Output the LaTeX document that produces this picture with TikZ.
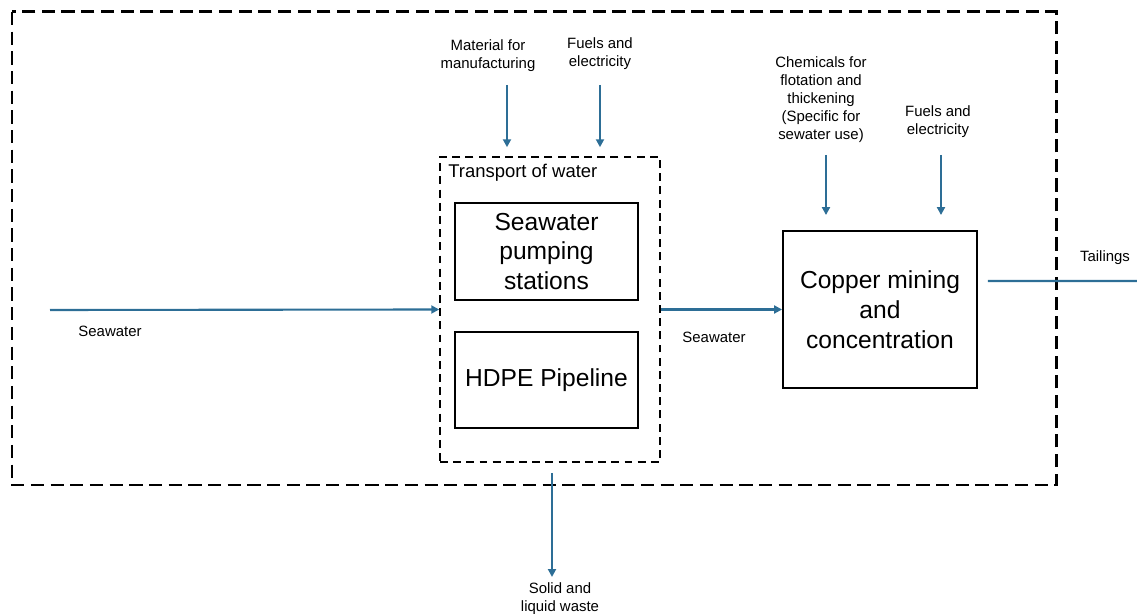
\documentclass[tikz,border=0pt]{standalone}
\usepackage{fontspec}
\setmainfont{Liberation Sans}
\usetikzlibrary{arrows.meta, positioning}
\definecolor{flowblue}{RGB}{45,110,150}
\tikzstyle{unit} = [rectangle, draw=black, line width=1.1pt, text centered, font=\fontsize{14}{17}\selectfont, align=center]
\tikzstyle{frame} = [rectangle, draw=black, dashed, line width=0.9pt, dash pattern=on 4.5pt off 3pt]
\tikzstyle{label} = [font=\fontsize{8.5}{10.2}\selectfont, align=center, inner sep=0pt]
\tikzstyle{flow} = [flowblue, line width=1.2pt, -{Triangle[length=4.5pt, width=4.5pt]}]

\begin{document}
\begin{tikzpicture}[x=0.02cm, y=-0.02cm]
	\useasboundingbox (0,0) rectangle (1137,614);
	\draw [line width=1.7pt, dash pattern=on 7.5pt off 3.7pt] (12,12) rectangle (1056,485);

	\node (transport) [frame, minimum width=4.4cm, minimum height=6.1cm] at (550,309.5) {};
	\node (transportlbl) [anchor=west, inner sep=0pt, font=\fontsize{10.5}{12}\selectfont] at (448,173) {Transport of water};
	\node (pumping) [unit, minimum width=3.66cm, minimum height=1.94cm] at (546.5,251.5) {Seawater\\pumping\\stations};
	\node (pipeline) [unit, minimum width=3.66cm, minimum height=1.92cm] at (546.5,380) {HDPE Pipeline};
	\node (copper) [unit, minimum width=3.88cm, minimum height=3.14cm] at (880,309.5) {Copper mining\\and\\concentration};

	% inputs and outputs
	\coordinate (seain) at (50,310);
	\coordinate (matin) at (507,85);
	\coordinate (fuelin) at (600,85);
	\coordinate (chemin) at (826,155);
	\coordinate (fuelin2) at (941,155);
	\coordinate (waste) at (552,577);
	\coordinate (tailout) at (1137,281);

	\node (matlbl) [label] at (488,56) {Material for\\manufacturing};
	\node (fuellbl) [label] at (600,54) {Fuels and\\electricity};
	\node (chemlbl) [label] at (821,99.5) {Chemicals for\\flotation and\\thickening\\(Specific for\\sewater use)};
	\node (fuellbl2) [label] at (938,122) {Fuels and\\electricity};
	\node (sealbl) [label] at (110,331) {Seawater};
	\node (sealbl2) [label] at (714,337) {Seawater};
	\node (taillbl) [label] at (1105,258) {Tailings};
	\node (wastelbl) [label] at (560,599) {Solid and\\liquid waste};

	\draw [flow] (seain) -- (transport.west);
	\draw [flow] (transport.east) -- (copper.west);
	\draw [flowblue, line width=1.2pt] ([xshift=0.2cm,yshift=0.57cm]copper.east) -- (tailout);
	\draw [flow, shorten >=0.18cm] (matin) -- (matin |- transport.north);
	\draw [flow, shorten >=0.18cm] (fuelin) -- (fuelin |- transport.north);
	\draw [flow, shorten >=0.3cm] (chemin) -- (chemin |- copper.north);
	\draw [flow, shorten >=0.3cm] (fuelin2) -- (fuelin2 |- copper.north);
	\draw [flow, shorten <=0.2cm] (waste |- transport.south) -- (waste);
\end{tikzpicture}
\end{document}
